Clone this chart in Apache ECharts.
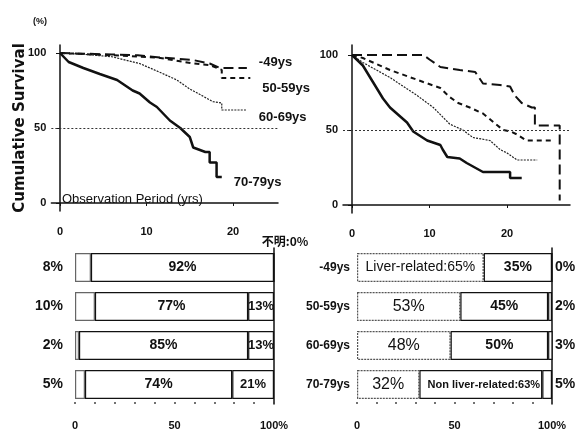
<!DOCTYPE html>
<html><head><meta charset="utf-8">
<script src="https://cdn.jsdelivr.net/npm/echarts@6/dist/echarts.min.js"></script>
<style>html,body{margin:0;padding:0;background:#fff}#c{width:579px;height:431px}</style>
</head><body><div id="c"></div>
<script>
// Kaplan-Meier curves, [years, % survival]
const ageGroups = ['-49ys', '50-59ys', '60-69ys', '70-79ys'];
const leftKM49 = [[0,100],[3,99.5],[6,99],[9,98.5],[11.6,97],[15.4,95.3],[17.3,93],[18.5,90],[21.6,90]];
const leftKM5059 = [[0,100],[4,99],[8,98],[11.6,96.7],[15.4,93],[17.3,92],[18.7,88.7],[18.7,83.3],[22,83.3]];
const leftKM6069 = [[0,100],[3,99],[6,97.5],[9.2,93],[11.6,87],[13.5,82],[15,76],[16.6,71],[17.7,67.5],[18.7,66.7],[18.7,62],[21.6,62]];
const leftKM7079 = [[0,100],[1,94],[2.7,90],[4.6,86],[6.6,82],[8.4,75],[9.2,73],[10.4,67],[11.2,64],[12.7,55],[13.9,50],[15,44],[15.4,37],[16.8,34],[17.3,34],[17.3,27],[18.1,27],[18.1,17.3],[18.7,17.3]];
const rightKM49 = [[0,100],[9.2,100],[10,97],[11.4,92],[13.9,90],[15.9,88.7],[16.9,81],[19.1,80],[20.4,79],[21,73],[21.9,68],[23.2,65],[23.6,65],[23.6,53],[26.8,53],[26.8,3]];
const rightKM5059 = [[0,100],[1.4,98],[4.9,90],[9.2,82],[11.4,78],[12.6,72],[13.7,68],[15.2,65],[16.9,61],[19.5,50],[20.5,49],[21.3,47],[22.5,43],[25.9,43]];
const rightKM6069 = [[0,100],[1.4,95],[4.9,85],[8.4,73],[10.5,65],[12.6,54],[14.3,50],[15.6,45],[17.8,43],[19.1,37],[20,34.7],[21.3,30],[23.9,30]];
const rightKM7079 = [[0,100],[1.4,93],[2.7,82],[4,71],[4.9,65],[7.1,55],[7.9,49],[9.7,43],[11.4,40],[11.7,37],[12.3,32],[13.9,31],[14.8,28],[16.9,22],[20.4,22],[20.4,18],[21.9,18]];
const kmXTicks = [0, 10, 20];
const kmYTicks = [0, 50, 100];
// Stacked bars (%)
const leftSeg1 = [8, 10, 2, 5];
const leftSeg2 = [92, 77, 85, 74];
const leftSeg3 = [0, 13, 13, 21];
const rightSeg1 = [65, 53, 48, 32];
const rightSeg2 = [35, 45, 50, 63];
const rightSeg3 = [0, 2, 3, 5];
const barTicks = [0, 50, 100];

const FONT = '"Liberation Sans",Arial,sans-serif';
const INK = '#111';
const chart = echarts.init(document.getElementById('c'), null, {renderer: 'canvas'});

function kmX(g, min, max) {
  return {type: 'value', min: min, max: max, gridIndex: g,
    axisLine: {show: true, lineStyle: {color: INK, width: 1.5}},
    axisTick: {show: true, customValues: kmXTicks, length: 3, lineStyle: {color: INK}},
    axisLabel: {customValues: kmXTicks, margin: 15, color: INK, fontFamily: FONT, fontWeight: 'bold', fontSize: 11},
    splitLine: {show: false}};
}
function kmY(g, min, max) {
  return {type: 'value', min: min, max: max, gridIndex: g,
    axisLine: {show: true, lineStyle: {color: INK, width: 1.5}},
    axisTick: {show: true, customValues: kmYTicks, length: 4, lineStyle: {color: INK}},
    axisLabel: {customValues: kmYTicks, margin: 5, color: INK, fontFamily: FONT, fontWeight: 'bold', fontSize: 11},
    splitLine: {show: false}};
}
function barX(g) {
  return {type: 'value', gridIndex: g, min: 0, max: 100, interval: 10,
    axisLine: {show: false},
    axisTick: {show: true, length: 2, inside: true, lineStyle: {color: '#444', width: 1.5}},
    axisLabel: {customValues: barTicks, margin: 16, color: INK, fontFamily: FONT, fontWeight: 'bold', fontSize: 11,
      formatter: v => v === 100 ? '100%' : String(v)},
    splitLine: {show: false}};
}
const xA = [kmX(0, -1, 25.2), kmX(1, -1.161, 28.13), barX(2), barX(3)];
const yA = [kmY(0, -5.333, 105.333), kmY(1, -5.333, 106.667)];
// left bar chart: left labels = first segment, right = 100% line
yA.push({type: 'category', gridIndex: 2, data: ageGroups, inverse: true, axisLine: {show: false}, axisTick: {show: false},
  axisLabel: {margin: 12, color: INK, fontFamily: FONT, fontWeight: 'bold', fontSize: 14, formatter: (v, i) => leftSeg1[i] + '%'}});
yA.push({type: 'category', gridIndex: 2, data: ageGroups, inverse: true, position: 'right',
  axisLine: {show: true, lineStyle: {color: INK, width: 1.5}}, axisTick: {show: false}, axisLabel: {show: false}});
yA.push({type: 'category', gridIndex: 3, data: ageGroups, inverse: true, axisLine: {show: false}, axisTick: {show: false},
  axisLabel: {margin: 7, color: INK, fontFamily: FONT, fontWeight: 'bold', fontSize: 12}});
yA.push({type: 'category', gridIndex: 3, data: ageGroups, inverse: true, position: 'right',
  axisLine: {show: true, lineStyle: {color: INK, width: 1.5}}, axisTick: {show: false},
  axisLabel: {margin: 3, color: INK, fontFamily: FONT, fontWeight: 'bold', fontSize: 14, formatter: (v, i) => rightSeg3[i] + '%'}});

const kmStyles = [
  {type: [10, 5], width: 2, color: INK},
  {type: [5, 4], width: 2, color: INK},
  {type: [2, 1.2], width: 1.2, color: '#222'},
  {type: 'solid', width: 2.5, color: '#111'}
];
const labelOffsets = [[4, -6], [4, 10], [4, 7], [4, 5]];
const series = [];
const leftSets = [leftKM49, leftKM5059, leftKM6069, leftKM7079];
const rightSets = [rightKM49, rightKM5059, rightKM6069, rightKM7079];
function fifty() {
  return {silent: true, symbol: ['none', 'none'], label: {show: false},
    lineStyle: {type: [2, 2], width: 1, color: '#333'}, data: [{yAxis: 50}]};
}
leftSets.forEach((d, i) => {
  const s = {name: ageGroups[i], type: 'line', xAxisIndex: 0, yAxisIndex: 0, data: d, showSymbol: false, symbol: 'none',
    lineStyle: kmStyles[i],
    endLabel: {show: true, formatter: '{a}', offset: labelOffsets[i], color: INK, fontFamily: FONT, fontWeight: 'bold', fontSize: 13}};
  if (i === 3) s.markLine = fifty();
  series.push(s);
});
rightSets.forEach((d, i) => {
  const s = {name: ageGroups[i], type: 'line', xAxisIndex: 1, yAxisIndex: 1, data: d, showSymbol: false, symbol: 'none',
    lineStyle: kmStyles[i]};
  if (i === 3) s.markLine = fifty();
  series.push(s);
});
const lblBase = {show: true, position: 'inside', color: INK, fontFamily: FONT, fontWeight: 'bold', fontSize: 14};
function bar(name, stack, xi, yi, data, extra) {
  return Object.assign({name: name, type: 'bar', stack: stack, xAxisIndex: xi, yAxisIndex: yi, data: data, barWidth: 29,
    itemStyle: {color: '#fff', borderColor: INK, borderWidth: 1.2}}, extra || {});
}
series.push(bar('L1', 'L', 2, 2, leftSeg1, {itemStyle: {color: '#fff', borderColor: '#666', borderWidth: 1.2}}));
series.push(bar('L2', 'L', 2, 2, leftSeg2, {label: Object.assign({}, lblBase, {formatter: '{c}%'})}));
series.push(bar('L3', 'L', 2, 2,
  leftSeg3.map(v => v === 0 ? {value: v, label: {show: true, position: 'top', distance: 5, offset: [11, 0], formatter: '不明:' + v + '%',
    fontFamily: '"Noto Sans CJK JP",' + FONT, fontSize: 12, fontWeight: 'bold', color: INK}} : v),
  {label: Object.assign({}, lblBase, {fontSize: 13, formatter: '{c}%'})}));
series.push(bar('R1', 'R', 3, 4,
  rightSeg1.map((v, i) => i === 0 ? {value: v, label: {formatter: 'Liver-related:' + v + '%', fontWeight: 'normal', fontSize: 14}} : v),
  {itemStyle: {color: '#fff', borderColor: '#555', borderWidth: 1.2, borderType: [2, 1]},
   label: Object.assign({}, lblBase, {fontWeight: 'normal', fontSize: 16, formatter: '{c}%'})}));
series.push(bar('R2', 'R', 3, 4,
  rightSeg2.map((v, i) => i === 3 ? {value: v, label: {formatter: 'Non liver-related:' + v + '%', fontSize: 11, offset: [3, 0]}} : v),
  {label: Object.assign({}, lblBase, {formatter: '{c}%'})}));
series.push(bar('R3', 'R', 3, 4, rightSeg3));

chart.setOption({
  animation: false,
  backgroundColor: '#fff',
  grid: [
    {left: 51.35, top: 45, width: 226.65, height: 166},
    {left: 343, top: 45, width: 227, height: 168},
    {left: 75, top: 248, width: 199, height: 156},
    {left: 357, top: 248, width: 195, height: 156}
  ],
  xAxis: xA,
  yAxis: yA,
  series: series,
  graphic: [
    {type: 'text', left: 33, top: 17, style: {text: '(%)', font: 'bold 9px ' + FONT, fill: INK}},
    {type: 'text', x: 20, y: 128, rotation: Math.PI / 2,
      style: {text: 'Cumulative Survival', font: 'bold 15px "DejaVu Sans",sans-serif', fill: INK, align: 'center', verticalAlign: 'middle'}},
    {type: 'text', left: 62, top: 193, style: {text: 'Observation Period (yrs)', font: '13px ' + FONT, fill: INK}}
  ]
});
</script></body></html>
